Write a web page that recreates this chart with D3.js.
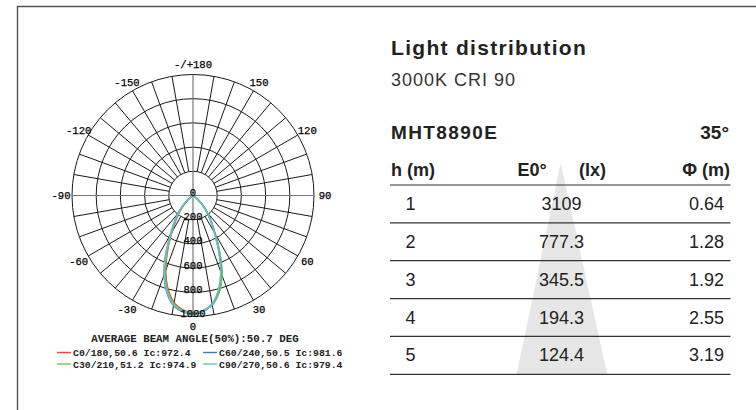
<!DOCTYPE html>
<html>
<head>
<meta charset="utf-8">
<script src="https://cdn.jsdelivr.net/npm/d3@7"></script>
<style>
  body { margin: 0; background: #fff; }
  svg { display: block; }
  .mono { font-family: "Liberation Mono", "Courier New", monospace; }
  .sans { font-family: "Liberation Sans", Arial, Helvetica, sans-serif; }
</style>
</head>
<body>
<div id="chart"></div>
<script>
// polar diagram data (cd/klm), gamma every 5 deg from 0 to 90
var gammas = [0, 5, 10, 15, 20, 25, 30, 35, 40, 45, 50, 55, 60, 65, 70, 75, 80, 85, 90];
var c0   = [972, 955, 915, 828, 695, 522, 365, 260, 180, 110, 55, 20, 6, 1, 0, 0, 0, 0, 0];
var c180 = [972, 950, 900, 798, 658, 493, 345, 240, 165, 100, 50, 18, 5, 1, 0, 0, 0, 0, 0];
var c30  = [975, 958, 918, 832, 700, 527, 368, 262, 182, 112, 56, 20, 6, 1, 0, 0, 0, 0, 0];
var c210 = [975, 955, 910, 812, 676, 508, 358, 255, 178, 108, 54, 19, 6, 1, 0, 0, 0, 0, 0];
var c60  = [982, 960, 912, 812, 676, 503, 355, 255, 180, 112, 56, 20, 6, 1, 0, 0, 0, 0, 0];
var c240 = [982, 965, 925, 832, 700, 532, 375, 270, 192, 120, 60, 22, 7, 1, 0, 0, 0, 0, 0];
var c90  = [979, 958, 910, 810, 672, 500, 352, 255, 180, 112, 56, 20, 6, 1, 0, 0, 0, 0, 0];
var c270 = [979, 962, 922, 828, 696, 525, 370, 267, 190, 118, 59, 21, 7, 1, 0, 0, 0, 0, 0];

var planeNames = ["C0/180,50.6 Ic:972.4", "C30/210,51.2 Ic:974.9", "C60/240,50.5 Ic:981.6", "C90/270,50.6 Ic:979.4"];
var planeColors = ["#e8473f", "#78c44c", "#4a74c9", "#5cc6c8"];
var ringValues = [0, 200, 400, 600, 800, 1000];
var angleTicks = [0, 30, 60, 90, 120, 150, 180, -150, -120, -90, -60, -30];
var beamTitle = "AVERAGE BEAM ANGLE(50%):50.7 DEG";

// table data
var heights = [1, 2, 3, 4, 5];
var illum = ["3109", "777.3", "345.5", "194.3", "124.4"];
var diam = ["0.64", "1.28", "1.92", "2.55", "3.19"];

var W = 756, H = 410;
var svg = d3.select("#chart").append("svg")
    .attr("width", W)
    .attr("height", H);

// frame
svg.append("path")
    .attr("d", "M17.5,410 V6.5 H756")
    .attr("fill", "none")
    .attr("stroke", "#555")
    .attr("stroke-width", 1.4);

// ---------- polar diagram ----------
var cx = 193, cy = 195.5, R = 121;
var r = d3.scaleLinear().domain([0, 1000]).range([0, R]);
var toRad = function(d) { return d * Math.PI / 180; };

var polar = svg.append("g").attr("transform", "translate(" + cx + "," + cy + ")");

// rings
polar.selectAll(".ring")
    .data(ringValues.slice(1))
    .enter().append("circle")
    .attr("class", "ring")
    .attr("r", function(d) { return r(d); })
    .attr("fill", "none")
    .attr("stroke", "#1a1a1a")
    .attr("stroke-width", 1);

// spokes every 10 deg, outside the first ring
var spokes = d3.range(0, 360, 10).filter(function(d) { return d % 90 != 0; });
polar.selectAll(".spoke")
    .data(spokes)
    .enter().append("line")
    .attr("class", "spoke")
    .attr("x1", function(d) { return r(200) * Math.sin(toRad(d)); })
    .attr("y1", function(d) { return r(200) * Math.cos(toRad(d)); })
    .attr("x2", function(d) { return R * Math.sin(toRad(d)); })
    .attr("y2", function(d) { return R * Math.cos(toRad(d)); })
    .attr("stroke", "#1a1a1a")
    .attr("stroke-width", 1);

// main axes through the centre
polar.selectAll(".axis")
    .data([0, 90])
    .enter().append("line")
    .attr("x1", function(d) { return -R * Math.sin(toRad(d)); })
    .attr("y1", function(d) { return -R * Math.cos(toRad(d)); })
    .attr("x2", function(d) { return R * Math.sin(toRad(d)); })
    .attr("y2", function(d) { return R * Math.cos(toRad(d)); })
    .attr("stroke", "#777")
    .attr("stroke-width", 1.2);

// curves: left half from the second plane, right half from the first
var planes = [[c0, c180], [c30, c210], [c60, c240], [c90, c270]];
var radial = d3.lineRadial()
    .angle(function(d) { return d.a; })
    .radius(function(d) { return r(d.v); })
    .curve(d3.curveCatmullRom.alpha(0.5));

planes.forEach(function(p, i) {
    var pts = [];
    for (var k = gammas.length - 1; k > 0; k--) {
        pts.push({a: Math.PI + toRad(gammas[k]), v: p[1][k]});
    }
    for (var k = 0; k < gammas.length; k++) {
        pts.push({a: Math.PI - toRad(gammas[k]), v: p[0][k]});
    }
    polar.append("path")
        .attr("d", radial(pts))
        .attr("fill", "none")
        .attr("stroke", planeColors[i])
        .attr("stroke-width", 1.5);
});

// ring labels
polar.selectAll(".ringLabel")
    .data(ringValues)
    .enter().append("text")
    .attr("class", "mono")
    .attr("x", 0)
    .attr("y", function(d) { return r(d) + 0.5; })
    .attr("text-anchor", "middle")
    .style("font-size", "10.6px")
    .style("fill", "#000")
    .style("stroke", "#000")
    .style("stroke-width", 0.25)
    .text(function(d) { return d; });

// angle labels
polar.selectAll(".angLabel")
    .data(angleTicks)
    .enter().append("text")
    .attr("class", "mono")
    .attr("x", function(d) { return 132 * Math.sin(toRad(d)); })
    .attr("y", function(d) { return 131 * Math.cos(toRad(d)) + 3.7; })
    .attr("text-anchor", "middle")
    .style("font-size", "10.6px")
    .style("fill", "#000")
    .style("stroke", "#000")
    .style("stroke-width", 0.25)
    .text(function(d) { return d == 180 ? "-/+180" : d; });

svg.append("text")
    .attr("class", "mono")
    .attr("x", 195)
    .attr("y", 341.5)
    .attr("text-anchor", "middle")
    .style("font-size", "10.8px")
    .style("font-weight", "bold")
    .style("fill", "#222")
    .text(beamTitle);

// legend (2 columns)
var legOrder = [0, 2, 1, 3];
legOrder.forEach(function(idx, j) {
    var lx = (j % 2 == 0) ? 57 : 203;
    var ly = (j < 2) ? 352.5 : 364;
    svg.append("line")
        .attr("x1", lx).attr("x2", lx + 14)
        .attr("y1", ly).attr("y2", ly)
        .attr("stroke", planeColors[idx])
        .attr("stroke-width", 1.4);
    svg.append("text")
        .attr("class", "mono")
        .attr("x", lx + 16)
        .attr("y", ly + 3.5)
        .style("font-size", "9.8px")
        .style("font-weight", "bold")
        .style("fill", "#222")
        .text(planeNames[idx]);
});

// ---------- right panel ----------
svg.append("text")
    .attr("class", "sans")
    .attr("x", 391)
    .attr("y", 55)
    .style("font-size", "21px")
    .style("font-weight", "bold")
    .style("letter-spacing", "1.3px")
    .style("fill", "#222")
    .text("Light distribution");

svg.append("text")
    .attr("class", "sans")
    .attr("x", 391)
    .attr("y", 85.5)
    .style("font-size", "18px")
    .style("letter-spacing", "1px")
    .style("fill", "#333")
    .text("3000K CRI 90");

svg.append("text")
    .attr("class", "sans")
    .attr("x", 391)
    .attr("y", 139.3)
    .style("font-size", "19px")
    .style("font-weight", "bold")
    .style("letter-spacing", "1.4px")
    .style("fill", "#222")
    .text("MHT8890E");

svg.append("text")
    .attr("class", "sans")
    .attr("x", 729)
    .attr("y", 139.3)
    .attr("text-anchor", "end")
    .style("font-size", "19px")
    .style("font-weight", "bold")
    .style("fill", "#222")
    .text("35°");

// table rows
var y = d3.scaleBand().domain(heights).range([185, 374.3]);
var tableTop = 163;

// light cone behind the illuminance column
svg.append("path")
    .attr("d", "M560.7," + tableTop + " L607.3,374.3 L516.7,374.3 Z")
    .attr("fill", "#e6e6e6");

// header
var header = [
    {t: "h (m)", x: 391, anchor: "start"},
    {t: "E0°", x: 517.5, anchor: "start"},
    {t: "(lx)", x: 579, anchor: "start"},
    {t: "Φ (m)", x: 730, anchor: "end"}
];
svg.selectAll(".hdr")
    .data(header)
    .enter().append("text")
    .attr("class", "sans")
    .attr("x", function(d) { return d.x; })
    .attr("y", 175.5)
    .attr("text-anchor", function(d) { return d.anchor; })
    .style("font-size", "18px")
    .style("font-weight", "bold")
    .style("fill", "#222")
    .text(function(d) { return d.t; });

// separators
svg.selectAll(".sep")
    .data([185].concat(heights.map(function(h) { return y(h) + y.bandwidth(); })))
    .enter().append("line")
    .attr("x1", 390).attr("x2", 730.5)
    .attr("y1", function(d) { return d; })
    .attr("y2", function(d) { return d; })
    .attr("stroke", "#333")
    .attr("stroke-width", 1.2);

var rows = svg.selectAll(".row")
    .data(heights)
    .enter().append("g")
    .attr("transform", function(d) { return "translate(0," + (y(d) + 25) + ")"; });

rows.append("text")
    .attr("class", "sans")
    .attr("x", 405.5)
    .style("font-size", "18px")
    .style("fill", "#222")
    .text(function(d) { return d; });

rows.append("text")
    .attr("class", "sans")
    .attr("x", 561.5)
    .attr("text-anchor", "middle")
    .style("font-size", "18px")
    .style("fill", "#222")
    .text(function(d, i) { return illum[i]; });

rows.append("text")
    .attr("class", "sans")
    .attr("x", 724)
    .attr("text-anchor", "end")
    .style("font-size", "18px")
    .style("fill", "#222")
    .text(function(d, i) { return diam[i]; });
</script>
</body>
</html>
